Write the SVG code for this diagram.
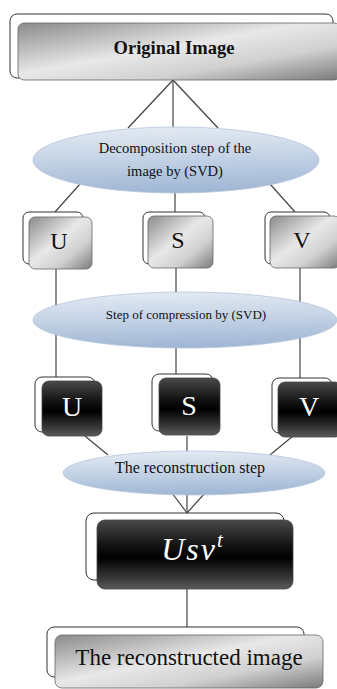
<svg xmlns="http://www.w3.org/2000/svg" width="337" height="689" viewBox="0 0 337 689">
<style>
.back{fill:#fff;stroke:#333;stroke-width:1}
.gray{fill:url(#gGray);stroke:#666;stroke-width:0.8}
.black{fill:url(#gBlack);stroke:#444;stroke-width:0.8}
.ell{fill:url(#gBlue);stroke:#b5c5da;stroke-width:0.8}
.conn line{stroke:#444;stroke-width:1.2}
.t{font-family:"Liberation Serif","Times New Roman",serif;text-anchor:middle;fill:#111}
.w{fill:#fff}
</style>
<defs>
<linearGradient id="gGray" x1="0" y1="0" x2="1" y2="1">
<stop offset="0" stop-color="#8a8a8a"/>
<stop offset="0.45" stop-color="#e8e8e8"/>
<stop offset="0.7" stop-color="#d0d0d0"/>
<stop offset="1" stop-color="#7a7a7a"/>
</linearGradient>
<linearGradient id="gBlack" x1="0" y1="0" x2="0" y2="1">
<stop offset="0" stop-color="#4a4a4a"/>
<stop offset="0.35" stop-color="#151515"/>
<stop offset="0.55" stop-color="#000"/>
<stop offset="0.85" stop-color="#3a3a3a"/>
<stop offset="1" stop-color="#5a5a5a"/>
</linearGradient>
<linearGradient id="gBlue" x1="0.3" y1="0" x2="0.4" y2="1">
<stop offset="0" stop-color="#e3eaf3"/>
<stop offset="0.5" stop-color="#c3d2e5"/>
<stop offset="1" stop-color="#9fb6d4"/>
</linearGradient>
</defs>

<g id="connectors" class="conn">
<line x1="173" y1="80" x2="128" y2="128"/>
<line x1="173" y1="80" x2="173" y2="128"/>
<line x1="173" y1="80" x2="218" y2="128"/>
<line x1="80" y1="184" x2="55" y2="212"/>
<line x1="175" y1="190" x2="175" y2="213"/>
<line x1="270" y1="184" x2="295" y2="212"/>
<line x1="56" y1="266" x2="56" y2="378"/>
<line x1="176" y1="266" x2="176" y2="375"/>
<line x1="300" y1="266" x2="300" y2="379"/>
<line x1="85" y1="436" x2="108" y2="455"/>
<line x1="187" y1="436" x2="187" y2="455"/>
<line x1="293" y1="436" x2="270" y2="455"/>
<line x1="172" y1="493" x2="187" y2="513"/>
<line x1="187" y1="493" x2="187" y2="513"/>
<line x1="205" y1="493" x2="187" y2="513"/>
<line x1="187" y1="588" x2="187" y2="628"/>
</g>

<g id="original">
<rect class="back" x="10" y="14" width="323" height="64" rx="7"/>
<rect class="gray" x="18" y="23" width="322" height="57" rx="6"/>
<text class="t" x="174" y="54" font-size="18.5" font-weight="bold">Original Image</text>
</g>

<g id="decomp">
<ellipse class="ell" cx="176" cy="160" rx="143" ry="33"/>
<text class="t" x="175" y="153" font-size="14.5">Decomposition step of the</text>
<text class="t" x="175" y="176" font-size="14.5">image by (SVD)</text>
</g>

<g id="U1">
<rect class="back" x="23" y="212" width="60" height="52" rx="6"/>
<rect class="gray" x="29" y="217" width="63" height="52" rx="6"/>
<text class="t" x="59" y="249" font-size="24">U</text>
</g>
<g id="S1">
<rect class="back" x="143" y="212" width="62" height="52" rx="6"/>
<rect class="gray" x="148" y="216" width="65" height="52" rx="6"/>
<text class="t" x="178" y="248" font-size="24">S</text>
</g>
<g id="V1">
<rect class="back" x="265" y="212" width="65" height="52" rx="6"/>
<rect class="gray" x="270" y="216" width="70" height="52" rx="6"/>
<text class="t" x="302" y="248" font-size="24">V</text>
</g>

<g id="compress">
<ellipse class="ell" cx="185" cy="320" rx="152" ry="28"/>
<text class="t" x="186" y="319" font-size="13">Step of compression by (SVD)</text>
</g>

<g id="U2">
<rect class="back" x="35" y="377" width="60" height="55" rx="7"/>
<rect class="black" x="42" y="381" width="60" height="55" rx="7"/>
<text class="t w" x="72" y="416" font-size="28">U</text>
</g>
<g id="S2">
<rect class="back" x="152" y="374" width="61" height="57" rx="7"/>
<rect class="black" x="159" y="378" width="61" height="57" rx="7"/>
<text class="t w" x="189" y="415" font-size="28">S</text>
</g>
<g id="V2">
<rect class="back" x="272" y="378" width="60" height="55" rx="7"/>
<rect class="black" x="278" y="382" width="64" height="55" rx="7"/>
<text class="t w" x="309" y="416" font-size="28">V</text>
</g>

<g id="recon">
<ellipse class="ell" cx="194" cy="473" rx="131" ry="22"/>
<text class="t" x="190" y="473" font-size="16">The reconstruction step</text>
</g>

<g id="usv">
<rect class="back" x="86" y="513" width="198" height="67" rx="8"/>
<rect class="black" x="97" y="520" width="196" height="69" rx="8"/>
<text class="t w" x="193" y="560" font-size="32" font-style="italic" letter-spacing="2">Usv<tspan font-size="21" dy="-13">t</tspan></text>
</g>

<g id="result">
<rect class="back" x="47" y="627" width="257" height="50" rx="7"/>
<rect class="gray" x="55" y="635" width="268" height="53" rx="7"/>
<text class="t" x="189" y="665" font-size="23">The reconstructed image</text>
</g>
</svg>
